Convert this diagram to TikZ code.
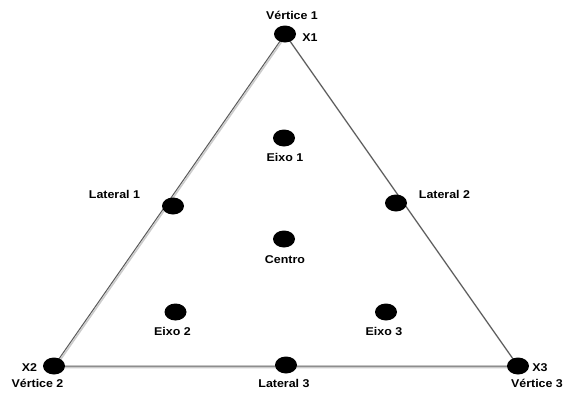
\documentclass[tikz,border=0pt]{standalone}
\usepackage{fontspec}
\usepackage{graphicx}
\setmainfont{Liberation Sans}
\usetikzlibrary{shapes.geometric,backgrounds}
\newcommand{\wide}[1]{\scalebox{1.1}[1]{#1}}
\begin{document}
\begin{tikzpicture}[x=1pt,y=-1pt,
  dot/.style={ellipse,fill=black,inner sep=0pt,minimum width=22pt,minimum height=17pt},
  lbl/.style={font=\fontsize{11.3}{13}\selectfont\bfseries,inner sep=0pt,anchor=base},
  edge/.style={draw=black!65,line width=1pt},
  shadowedge/.style={draw=black!20,line width=1.6pt}]
\useasboundingbox (0,0) rectangle (565,394);
\node[dot] (x1) at (285,34) {};
\node[dot] (x2) at (54,366) {};
\node[dot] (x3) at (518,366) {};
\node[dot] (e1) at (284,138) {};
\node[dot] (l1) at (173,206) {};
\node[dot] (l2) at (396,203) {};
\node[dot] (c) at (284,239) {};
\node[dot] (e2) at (175.5,312) {};
\node[dot] (e3) at (386,312) {};
\node[dot] (l3) at (286,365) {};
\begin{scope}[on background layer]
\draw[shadowedge] ([shift={(1,1.5)}]x1.center) -- ([shift={(1,1.5)}]x2.center) -- ([shift={(1,1.5)}]x3.center) -- cycle;
\draw[edge] (x1.center) -- (x2.center) -- (x3.center) -- cycle;
\end{scope}
\node[lbl] (tv1) at (292,19) {\wide{Vértice 1}};
\node[lbl] (tx1) at (310,41) {\wide{X1}};
\node[lbl] (te1) at (285,161) {\wide{Eixo 1}};
\node[lbl] (tl1) at (114.5,198) {\wide{Lateral 1}};
\node[lbl] (tl2) at (444.5,198) {\wide{Lateral 2}};
\node[lbl] (tc) at (285,263) {\wide{Centro}};
\node[lbl] (te2) at (172.5,335) {\wide{Eixo 2}};
\node[lbl] (te3) at (384,335) {\wide{Eixo 3}};
\node[lbl] (tx2) at (29.5,371) {\wide{X2}};
\node[lbl] (tv2) at (37.5,387) {\wide{Vértice 2}};
\node[lbl] (tl3) at (284,387) {\wide{Lateral 3}};
\node[lbl] (tx3) at (540,371) {\wide{X3}};
\node[lbl] (tv3) at (537,387) {\wide{Vértice 3}};
\end{tikzpicture}
\end{document}
